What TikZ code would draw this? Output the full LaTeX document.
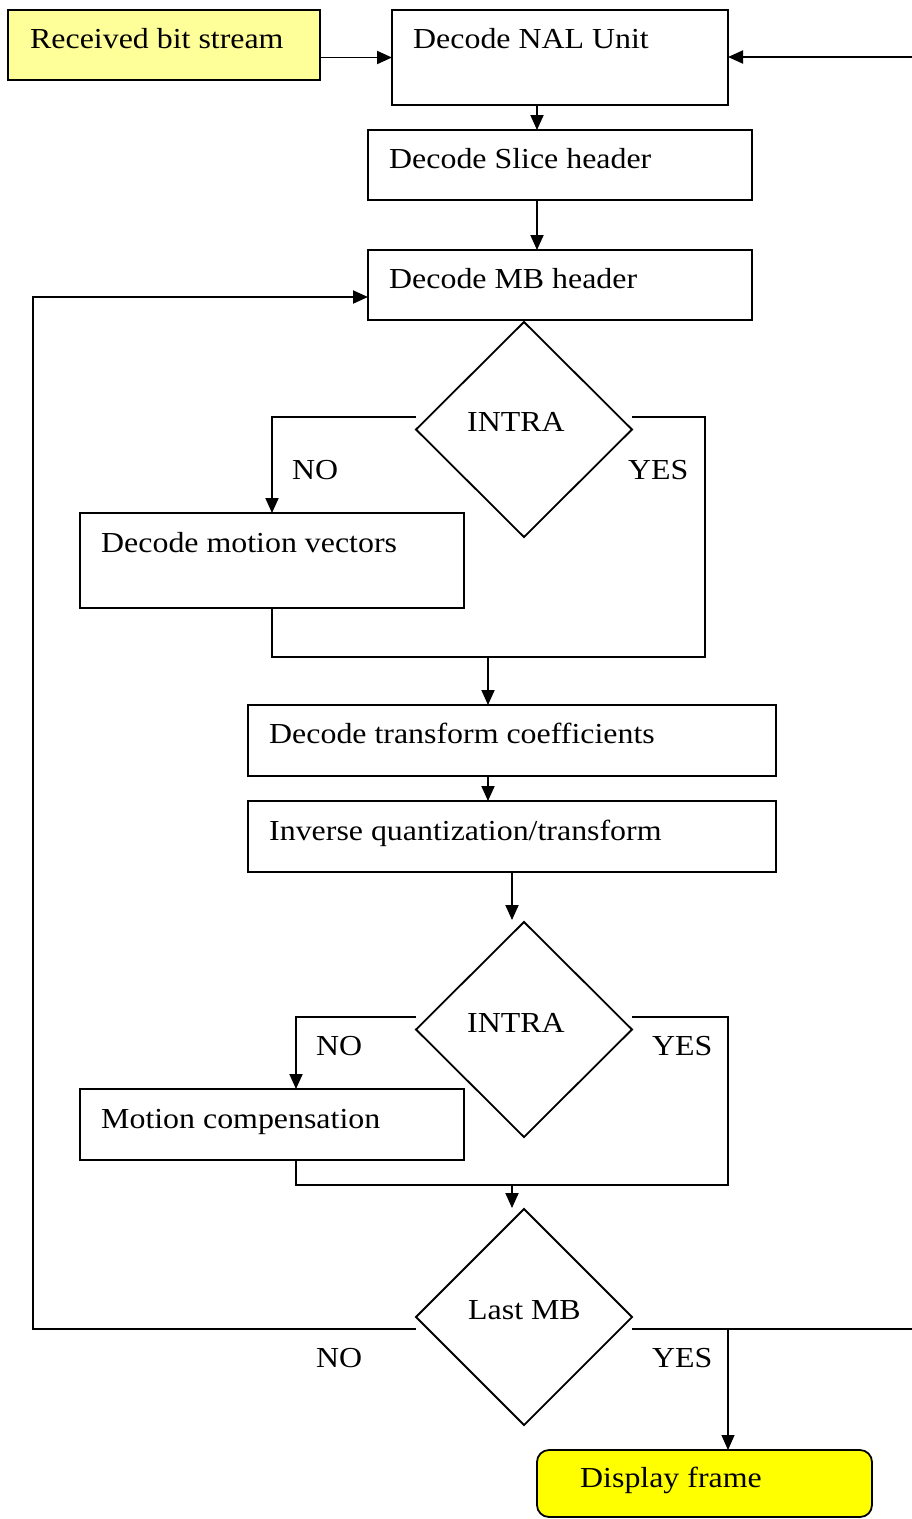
\documentclass[tikz,border=0pt]{standalone}
\usepackage{fontspec}
\setmainfont{Liberation Serif}[FakeStretch=1.1]
\usetikzlibrary{shapes.geometric,arrows.meta,calc}
\definecolor{paleyellow}{HTML}{FFFF99}
\definecolor{brightyellow}{HTML}{FFFF00}
\begin{document}
\begin{tikzpicture}[x=1pt,y=-1pt,
  box/.style={draw, line width=1.8pt, rectangle, inner sep=0pt, outer sep=0pt, anchor=north west},
  dec/.style={draw, diamond, line width=1.8pt, inner sep=0pt, outer sep=0pt,
              minimum width=216pt, minimum height=215pt},
  lbl/.style={anchor=base west, inner sep=0pt, font=\fontsize{29}{33}\selectfont},
  link/.style={line width=1.9pt},
  arr/.style={link, -{Triangle[length=15pt,width=13pt]}}]
\useasboundingbox (0,0) rectangle (912,1519);

% process boxes
\node[box, fill=paleyellow, minimum width=312pt, minimum height=70pt] (rbs) at (8,10) {};
\node[box, minimum width=336pt, minimum height=95pt] (nal) at (392,10) {};
\node[box, minimum width=384pt, minimum height=70pt] (slice) at (368,130) {};
\node[box, minimum width=384pt, minimum height=70pt] (mbh) at (368,250) {};
\node[box, minimum width=384pt, minimum height=95pt] (mv) at (80,513) {};
\node[box, minimum width=528pt, minimum height=71pt] (dtc) at (248,705) {};
\node[box, minimum width=528pt, minimum height=71pt] (iqt) at (248,801) {};
\node[box, minimum width=384pt, minimum height=71pt] (mc) at (80,1089) {};
\node[box, fill=brightyellow, rounded corners=12pt, minimum width=335pt, minimum height=67pt] (disp) at (537,1450) {};

% decisions
\node[dec] (d1) at (524,429.5) {};
\node[dec] (d2) at (524,1029.5) {};
\node[dec, minimum height=216pt] (d3) at (524,1317) {};

% texts
\node[lbl] (rbs-t) at ($(rbs.north west)+(22,38)$) {Received bit stream};
\node[lbl] (nal-t) at ($(nal.north west)+(21,38)$) {Decode NAL Unit};
\node[lbl] (slice-t) at ($(slice.north west)+(21,38)$) {Decode Slice header};
\node[lbl] (mbh-t) at ($(mbh.north west)+(21,38)$) {Decode MB header};
\node[lbl] (mv-t) at ($(mv.north west)+(21,39)$) {Decode motion vectors};
\node[lbl] (dtc-t) at ($(dtc.north west)+(21,38)$) {Decode transform coefficients};
\node[lbl] (iqt-t) at ($(iqt.north west)+(21,39)$) {Inverse quantization/transform};
\node[lbl] (mc-t) at ($(mc.north west)+(21,39)$) {Motion compensation};
\node[lbl] (disp-t) at ($(disp.north west)+(43,37)$) {Display frame};
\node[lbl] (d1-t) at (467,431) {INTRA};
\node[lbl] (d2-t) at (467,1032) {INTRA};
\node[lbl] (d3-t) at (468,1319) {Last MB};
\node[lbl] (d1-no) at (292,479) {NO};
\node[lbl] (d1-yes) at (628,479) {YES};
\node[lbl] (d2-no) at (316,1055) {NO};
\node[lbl] (d2-yes) at (652,1055) {YES};
\node[lbl] (d3-no) at (316,1367) {NO};
\node[lbl] (d3-yes) at (652,1367) {YES};

% free ends at the right margin
\coordinate (rin) at (912,57);
\coordinate (rout) at (912,1329);

% connectors
\draw[arr] (rbs.east |- nal.west) -- (nal.west);
\draw[arr] (rin) -- (rin -| nal.east);
\draw[arr] ([xshift=-23pt]nal.south) -- ([xshift=-23pt]slice.north);
\draw[arr] ([xshift=-23pt]slice.south) -- ([xshift=-23pt]mbh.north);
\draw[arr] ([yshift=-12pt]d3.west) -- ++(-383,0) |- ([yshift=-12pt]mbh.west);

\draw[arr] ([yshift=12.5pt]d1.west) -| (mv.north);
\draw[link] ([yshift=12.5pt]d1.east) -| ++(73,240) -| (mv.south);
\draw[arr] ([xshift=-24pt,yshift=48pt]dtc.north) -- ([xshift=-24pt]dtc.north);
\draw[arr] ([xshift=-24pt]dtc.south) -- ([xshift=-24pt]iqt.north);
\draw[arr] (iqt.south) -- ([yshift=2pt]iqt.south |- d2.north);

\draw[arr] ([yshift=12.5pt]d2.west) -| ([xshift=24pt]mc.north);
\draw[link] ([yshift=12.5pt]d2.east) -| ++(96,168) -| ([xshift=24pt]mc.south);
\draw[arr] ([xshift=-12pt,yshift=24pt]d3.north) -- ([xshift=-12pt,yshift=1pt]d3.north);

\draw[link] ([yshift=-12pt]d3.east) -- (rout);
\draw[arr, line width=1.2pt] ([xshift=23.5pt]disp.north |- rout) -- ([xshift=23.5pt]disp.north);
\end{tikzpicture}
\end{document}
